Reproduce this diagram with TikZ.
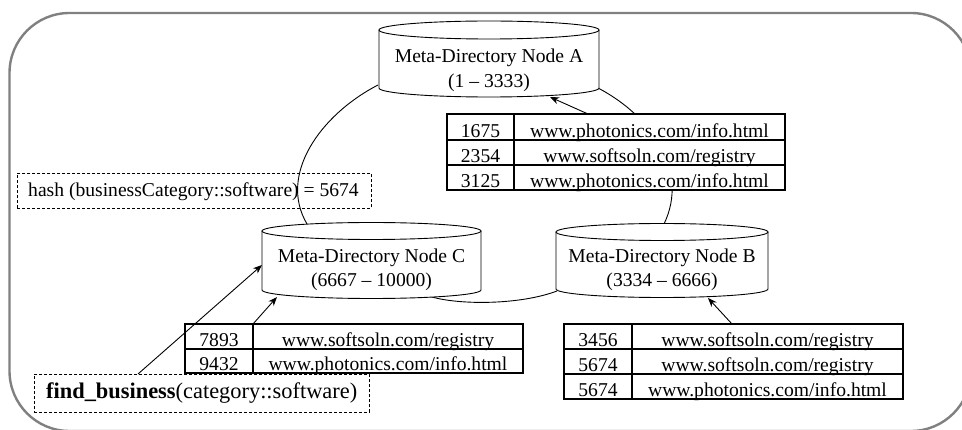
\documentclass[tikz,border=0pt]{standalone}
\usepackage{fontspec}
\setmainfont{Liberation Serif}
\usetikzlibrary{arrows.meta}

% database cylinder: name, left x, right x, top-ellipse y, bottom-ellipse y, y radius
\newcommand\dbcyl[6]{%
  \pgfmathsetmacro\cylcx{(#2+#3)/2}%
  \pgfmathsetmacro\cylrx{(#3-#2)/2}%
  \fill[white] (#2,-#4) -- (#2,-#5)
     arc[start angle=180,end angle=360,x radius=\cylrx,y radius=#6] -- (#3,-#4)
     arc[start angle=0,end angle=180,x radius=\cylrx,y radius=#6] -- cycle;
  \draw[link] (\cylcx,-#4) ellipse[x radius=\cylrx,y radius=#6];
  \draw[link] (#2,-#4) -- (#2,-#5)
     arc[start angle=180,end angle=360,x radius=\cylrx,y radius=#6] -- (#3,-#4);
  \coordinate (#1) at (\cylcx,-#5);
}

\begin{document}
\begin{tikzpicture}[x=1pt,y=1pt,
  txt/.style={font=\fontsize{19.6}{24}\selectfont, inner sep=0pt, anchor=base},
  bigtxt/.style={font=\fontsize{22.4}{27}\selectfont, inner sep=0pt, anchor=base west},
  link/.style={line width=0.9pt},
  arr/.style={line width=0.9pt, -{Stealth[length=9pt,width=7pt]}},
  grid/.style={line width=1.2pt},
  dashbox/.style={draw, line width=0.9pt, dash pattern=on 3pt off 2pt, inner sep=0pt},
  frame/.style={draw=black!50, line width=2.4pt, rounded corners=60pt}]
\useasboundingbox (0,0) rectangle (962,-430);

% outer frame
\draw[frame] (9.5,-13) rectangle (971,-431);

% ring connecting the three meta-directory nodes
\coordinate (ringA1) at (378,-85);  \coordinate (ringC1) at (307,-224);
\coordinate (ringA2) at (598,-88);  \coordinate (ringB1) at (664,-224);
\coordinate (ringC2) at (432,-297); \coordinate (ringB2) at (557,-291);
\draw[link] (ringA1) .. controls (320,-115) and (278,-175) .. (ringC1);
\draw[link] (ringA2) .. controls (650,-115) and (690,-170) .. (ringB1);
\draw[link] (ringC2) .. controls (460,-305) and (520,-305) .. (ringB2);

% meta-directory nodes
\dbcyl{cylA}{379}{599}{30}{88}{9}
\node[txt] (nameA) at (489,-63) {Meta-Directory Node A};
\node[txt] (rangeA) at (489,-88) {(1 – 3333)};

\dbcyl{cylC}{262}{481}{231}{290}{8.5}
\node[txt] (nameC) at (371.5,-263) {Meta-Directory Node C};
\node[txt] (rangeC) at (371.5,-287) {(6667 – 10000)};

\dbcyl{cylB}{556}{768}{232}{289}{8.5}
\node[txt] (nameB) at (662,-263) {Meta-Directory Node B};
\node[txt] (rangeB) at (662,-287) {(3334 – 6666)};

% table held by node A
\draw[grid, fill=white] (447,-114) rectangle (785,-190);
\draw[grid] (514,-114) -- (514,-190)
            (447,-140) -- (785,-140)
            (447,-165) -- (785,-165);
\node[txt] (a1k) at (480.5,-138) {1675};
\node[txt] (a1v) at (649.5,-138) {www.photonics.com/info.html};
\node[txt] (a2k) at (480.5,-163) {2354};
\node[txt] (a2v) at (649.5,-163) {www.softsoln.com/registry};
\node[txt] (a3k) at (480.5,-188) {3125};
\node[txt] (a3v) at (649.5,-188) {www.photonics.com/info.html};

% table held by node C
\draw[grid, fill=white] (185,-324) rectangle (523,-373);
\draw[grid] (253,-324) -- (253,-373)
            (185,-349) -- (523,-349);
\node[txt] (c1k) at (219,-347) {7893};
\node[txt] (c1v) at (388,-347) {www.softsoln.com/registry};
\node[txt] (c2k) at (219,-371) {9432};
\node[txt] (c2v) at (388,-371) {www.photonics.com/info.html};

% table held by node B
\draw[grid, fill=white] (564,-324) rectangle (903,-399);
\draw[grid] (632,-324) -- (632,-399)
            (564,-349) -- (903,-349)
            (564,-374) -- (903,-374);
\node[txt] (b1k) at (598,-347) {3456};
\node[txt] (b1v) at (767.5,-347) {www.softsoln.com/registry};
\node[txt] (b2k) at (598,-372) {5674};
\node[txt] (b2v) at (767.5,-372) {www.softsoln.com/registry};
\node[txt] (b3k) at (598,-397) {5674};
\node[txt] (b3v) at (767.5,-397) {www.photonics.com/info.html};

% hash annotation
\node[dashbox, anchor=north west, minimum width=354pt, minimum height=35pt] (hashbox) at (17,-173) {};
\node[txt, anchor=base west] (hashtxt) at (28,-197) {hash (businessCategory::software) = 5674};

% query box
\node[dashbox, anchor=north west, minimum width=335pt, minimum height=38pt] (findbox) at (34,-374) {};
\node[bigtxt] (findtxt) at (46,-399) {\textbf{find\_business}(category::software)};

% arrows from tables and query to the nodes
\coordinate (tAtop) at (588,-114); \coordinate (cylAbot) at (550,-97);
\coordinate (tCtop) at (253,-324); \coordinate (cylCbot) at (277,-297);
\coordinate (tBtop) at (732,-324); \coordinate (cylBbot) at (708,-298);
\coordinate (findtop) at (138,-374); \coordinate (cylCleft) at (262,-265);
\draw[arr] (tAtop) -- (cylAbot);
\draw[arr] (tCtop) -- (cylCbot);
\draw[arr] (tBtop) -- (cylBbot);
\draw[arr] (findtop) -- (cylCleft);
\end{tikzpicture}
\end{document}
